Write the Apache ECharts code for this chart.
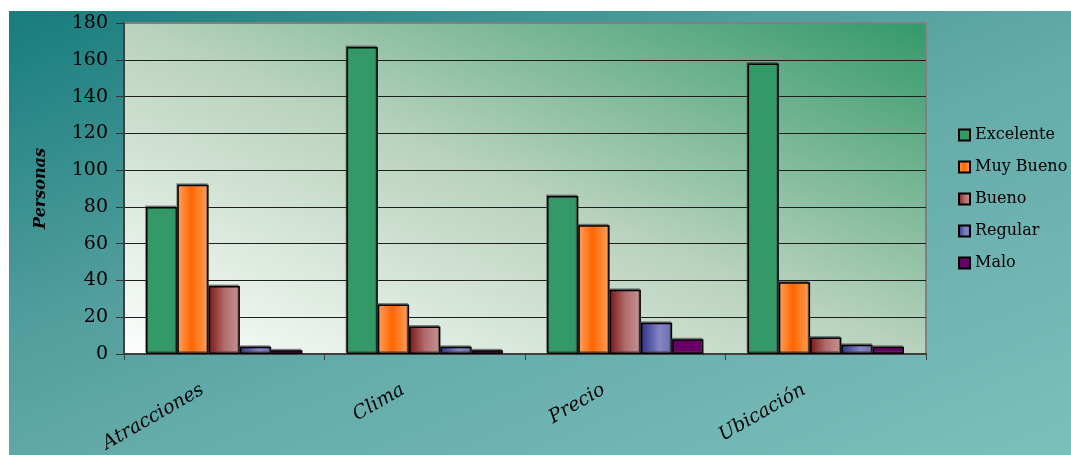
<!DOCTYPE html>
<html>
<head>
<meta charset="utf-8">
<script src="https://cdn.jsdelivr.net/npm/echarts@6/dist/echarts.min.js"></script>
<style>
  html, body { margin: 0; padding: 0; background: #ffffff; }
  #chart {
    position: absolute; left: 9px; top: 11px; width: 1062px; height: 444px;
    background: linear-gradient(to bottom right, #187c7d 0%, #4f9d9c 35%, #64abaa 55%, #7dbfbd 100%);
  }
</style>
</head>
<body>
<div id="chart"></div>
<script>
// Valoración por aspecto (número de personas)
const categories = ['Atracciones', 'Clima', 'Precio', 'Ubicación'];
const yTicks = [0, 20, 40, 60, 80, 100, 120, 140, 160, 180];
const excelente = [80, 167, 86, 158];
const muyBueno = [92, 27, 70, 39];
const bueno = [37, 15, 35, 9];
const regular = [4, 4, 17, 5];
const malo = [2, 2, 8, 4];

const chart = echarts.init(document.getElementById('chart'));

const gridLeft = 115, gridTop = 12, gridRight = 145, gridBottom = 99;
const plotW = 1062 - gridLeft - gridRight;
const plotH = 444 - gridTop - gridBottom;

// Diagonal fill whose colour bands run parallel to the top-left/bottom-right diagonal:
// the gradient vector is perpendicular to that diagonal, from bottom-left to top-right.
const s = 2 * plotW * plotH / (plotW * plotW + plotH * plotH);
const ex = plotH * s;
const ey = plotW * s;
const plotFill = new echarts.graphic.LinearGradient(
  0, 1, ex / plotW, 1 - ey / plotH,
  [
    { offset: 0, color: '#fdfefd' },
    { offset: 0.5, color: '#b8d2bd' },
    { offset: 1, color: '#33996a' }
  ]
);

function hGrad(stops) {
  return new echarts.graphic.LinearGradient(0, 0, 1, 0,
    stops.map(p => ({ offset: p[0], color: p[1] })));
}

const seriesDefs = [
  { name: 'Excelente', data: excelente, color: '#339966' },
  { name: 'Muy Bueno', data: muyBueno,
    color: hGrad([[0, '#ffa060'], [0.45, '#ff6600'], [1, '#ffa060']]) },
  { name: 'Bueno', data: bueno,
    color: hGrad([[0, '#7a1616'], [0.5, '#b06c6c'], [1, '#c99494']]) },
  { name: 'Regular', data: regular,
    color: hGrad([[0, '#30308a'], [0.6, '#8585c4'], [1, '#6c6cb2']]) },
  { name: 'Malo', data: malo, color: '#660066' }
];

const serif = 'DejaVu Serif';

chart.setOption({
  animation: false,
  grid: {
    left: gridLeft, top: gridTop, right: gridRight, bottom: gridBottom,
    show: true,
    backgroundColor: plotFill,
    borderColor: '#808080',
    borderWidth: 2
  },
  legend: {
    orient: 'vertical',
    left: 944, top: 111,
    itemWidth: 11, itemHeight: 11,
    itemGap: 16,
    icon: 'rect',
    textStyle: { fontFamily: serif, fontSize: 16, color: '#000' },
    data: seriesDefs.map(d => d.name)
  },
  xAxis: {
    type: 'category',
    data: categories,
    axisLine: { lineStyle: { color: '#404040', width: 2 } },
    axisTick: { show: true, length: 6, lineStyle: { color: '#404040', width: 1 } },
    axisLabel: {
      rotate: 30,
      margin: 22,
      padding: [0, 25, 0, 0],
      fontFamily: serif, fontStyle: 'italic', fontSize: 19, color: '#000'
    },
    splitLine: { show: false }
  },
  yAxis: {
    type: 'value',
    min: yTicks[0], max: yTicks[yTicks.length - 1], interval: 20,
    name: 'Personas',
    nameLocation: 'middle',
    nameGap: 75,
    nameTextStyle: { fontFamily: serif, fontStyle: 'italic', fontWeight: 'bold', fontSize: 16, color: '#000' },
    axisLine: { show: true, lineStyle: { color: '#404040', width: 2 } },
    axisTick: { show: true, length: 8, lineStyle: { color: '#333', width: 1 } },
    axisLabel: { margin: 16, fontFamily: serif, fontSize: 19, color: '#000' },
    splitLine: {
      show: true,
      lineStyle: {
        color: yTicks.map((v, i) => i === yTicks.length - 1 ? '#808080' : '#1e1e1e'),
        width: 1
      }
    }
  },
  series: seriesDefs.map(d => ({
    type: 'bar',
    name: d.name,
    data: d.data,
    barGap: '0%',
    barCategoryGap: '22%',
    itemStyle: {
      color: d.color,
      borderColor: '#000',
      borderWidth: 1.5,
      shadowColor: 'rgba(70,70,70,0.55)',
      shadowOffsetX: -1,
      shadowOffsetY: -1.5
    }
  }))
});
</script>
</body>
</html>
